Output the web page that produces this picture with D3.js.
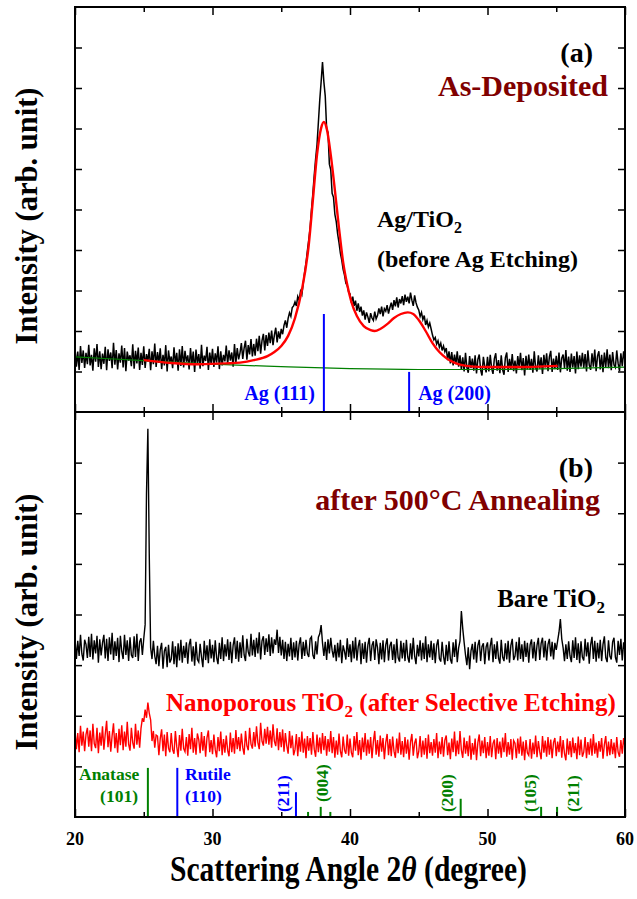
<!DOCTYPE html>
<html>
<head>
<meta charset="utf-8">
<script src="https://cdn.jsdelivr.net/npm/d3@7"></script>
<style>
  body { margin: 0; background: #fff; }
  svg { display: block; }
  text { font-family: "Liberation Serif", "Times New Roman", Times, serif; font-weight: bold; }
</style>
</head>
<body>
<svg id="chart" width="637" height="899"></svg>
<script>
// Scan grid: 20.0° to 60.0° in 0.1° steps
const angleStart = 20;
const angleStep = 0.1;

// (a) As-deposited Ag/TiO2, measured counts (arb.)
const agTiO2Counts = [
  158,112,149,104,163,121,152,109,146,118,
  166,115,141,102,157,124,168,111,150,106,
  144,119,161,103,155,126,147,108,171,117,
  153,105,145,122,164,110,158,101,149,127,
  140,113,167,107,151,120,159,104,146,116,
  162,109,143,125,156,103,150,118,169,111,
  148,121,157,106,141,115,165,100,152,123,
  137,108,160,119,146,102,155,114,163,110,
  151,124,140,105,158,117,149,99,154,120,
  143,107,166,113,139,126,161,104,147,118,
  156,111,145,122,162,106,150,115,141,125,
  164,118,152,127,147,112,168,121,158,130,
  146,170,131,158,176,129,165,142,180,137,
  168,139,181,150,188,144,176,193,152,190,
  163,196,170,201,165,190,208,172,199,181,
  205,192,214,226,208,231,245,236,258,262,
  272,262,285,276,298,290,318,345,368,398,
  425,455,500,540,585,625,660,715,770,815,
  864,815,780,700,690,612,598,540,530,488,
  470,440,418,392,375,352,338,318,312,296,
  292,270,285,262,275,250,268,247,260,238,
  251,228,246,235,220,244,232,226,248,230,
  238,256,242,260,236,255,249,264,243,258,
  270,252,276,261,283,258,279,268,286,264,
  290,272,285,268,295,276,262,288,270,259,
  252,236,246,228,238,215,226,210,220,205,
  190,178,184,168,176,160,170,152,163,149,
  158,128,150,120,148,115,142,118,150,112,
  140,104,135,100,146,110,97,138,108,132,
  102,140,95,130,142,104,90,136,112,98,
  136,100,141,108,94,132,145,102,128,96,
  140,104,92,134,147,99,131,106,143,101,
  127,95,138,110,146,103,133,90,139,105,
  142,104,131,97,150,109,100,140,107,135,
  94,141,110,145,101,136,151,99,132,106,
  139,104,147,98,133,142,108,153,102,137,
  99,144,110,138,95,149,106,140,112,146,
  109,143,100,152,116,104,145,112,154,101,
  138,150,105,141,98,147,111,155,108,142,
  103,148,116,110,152,120,101,145,113,150,
  125
];

// (a) peak fit
const fitAngles = [25, 27, 29, 31, 32, 33, 34, 34.5, 35, 35.5, 36, 36.5, 37, 37.3, 37.6, 37.9, 38.1, 38.3, 38.6, 38.9, 39.2, 39.5, 39.8, 40.1, 40.5, 41, 41.5, 41.8, 42.2, 42.7, 43.2, 43.7, 44.2, 44.6, 45, 45.5, 46, 46.5, 47, 47.5, 48, 49, 50, 52, 55.1];
const fitCounts = [128, 121, 118, 120, 122, 128, 138, 148, 163, 188, 232, 301, 412, 523, 635, 701, 716, 701, 635, 548, 454, 370, 314, 272, 237, 212, 202, 200, 205, 217, 232, 242, 246, 242, 227, 200, 170, 148, 133, 123, 117, 112, 111, 111, 114];

// (a) background
const baselineAngles = [20, 25, 30, 35, 40, 45, 50, 55, 60];
const baselineCounts = [136, 127, 118, 112, 107, 105, 105, 107, 111];

// (a) Ag reference reflections
const agRefNames = ["Ag (111)", "Ag (200)"];
const agRefAngles = [38.1, 44.3];
const agRefHeights = [242, 99];

// (b) Bare TiO2 after 500 °C annealing
const bareTiO2Counts = [
  352,312,348,318,360,322,309,350,341,314,
  356,316,362,311,349,323,358,305,351,319,
  344,360,313,352,308,355,321,364,310,347,
  318,354,306,358,327,312,360,320,349,308,
  355,320,314,357,316,362,308,346,353,320,
  352,380,640,767,520,335,312,348,318,302,
  338,298,330,344,293,328,336,296,340,305,
  312,347,302,337,296,343,309,350,305,338,
  314,345,303,340,352,307,337,299,346,311,
  306,342,316,296,348,310,339,304,351,313,
  340,306,349,315,302,344,312,355,308,341,
  317,351,310,346,304,339,355,312,348,307,
  345,314,359,320,308,352,326,317,362,319,
  350,316,354,323,365,311,348,357,320,353,
  326,361,318,355,323,351,340,370,324,356,
  319,350,312,346,308,342,317,354,310,345,
  315,348,309,341,355,312,346,318,350,323,
  316,352,356,320,312,347,321,355,362,379,
  344,318,346,310,351,323,354,329,315,340,
  308,344,315,350,304,339,327,311,353,316,
  341,306,348,313,355,309,337,350,302,343,
  312,346,305,340,354,308,339,347,310,351,
  335,302,344,311,349,306,340,353,309,338,
  346,310,341,304,352,315,307,348,313,344,
  308,350,316,305,343,311,354,318,302,340,
  317,349,309,344,312,357,306,341,315,348,
  310,343,304,339,351,313,307,346,317,301,
  340,308,347,312,303,345,316,351,306,334,
  348,407,372,345,320,300,335,292,328,342,
  311,346,305,339,350,308,337,343,302,336,
  345,309,338,354,306,341,312,347,314,303,
  350,316,308,343,311,348,305,339,352,310,
  318,346,309,355,312,341,307,348,316,344,
  305,340,351,313,346,308,339,354,310,343,
  354,315,348,309,341,352,317,346,311,344,
  330,348,365,391,352,334,308,341,312,347,
  318,306,349,314,355,310,343,304,347,316,
  309,352,317,345,303,340,356,312,348,307,
  344,313,350,308,341,357,315,306,349,318,
  311,346,354,316,305,348,320,352,309,345,
  329
];

// (b) Nanoporous TiO2 after selective etching
const nanoporousCounts = [
  172,134,166,128,180,141,169,130,163,176,
  139,171,130,184,145,136,176,126,167,141,
  179,133,164,190,138,170,129,161,185,136,
  166,127,174,142,181,132,169,139,188,144,
  131,176,147,135,184,143,171,137,175,195,
  188,212,196,226,205,192,150,170,137,162,
  160,122,155,173,130,163,120,168,136,128,
  166,133,125,170,139,118,162,131,174,135,
  129,158,121,164,134,176,127,156,123,165,
  153,126,168,131,160,119,157,171,128,152,
  124,163,133,118,158,130,169,122,154,127,
  161,132,120,167,128,156,125,172,134,158,
  130,165,137,123,170,141,132,176,144,135,
  168,139,179,147,134,186,150,141,174,145,
  178,143,171,137,183,150,140,175,132,168,
  138,173,129,166,141,125,170,136,161,122,
  133,164,120,158,129,169,127,155,116,160,
  131,156,123,168,134,119,163,128,157,125,
  166,132,160,121,154,129,170,126,158,117,
  151,123,165,130,118,159,132,125,163,121,
  155,127,118,160,131,168,122,152,113,157,
  128,166,121,153,125,158,116,149,170,123,
  152,119,161,129,156,114,147,164,122,154,
  120,159,130,117,155,126,167,123,150,118,
  158,125,153,113,148,164,121,146,155,116,
  129,160,118,151,123,156,115,163,126,148,
  121,154,127,166,116,149,124,158,119,152,
  161,122,147,114,155,128,169,120,151,124,
  170,132,117,157,125,150,120,161,113,146,
  123,155,112,147,163,120,151,126,158,116,
  148,121,160,118,145,153,114,156,125,149,
  117,157,128,166,119,148,123,154,113,151,
  146,116,155,125,159,121,149,112,152,127,
  122,154,115,147,124,161,118,150,129,114,
  160,127,151,119,158,123,153,116,147,156,
  120,149,128,160,117,152,125,112,155,123,
  150,118,157,126,146,114,159,122,153,119,
  128,158,116,148,123,155,121,164,125,147,
  117,150,129,156,115,143,160,120,149,122,
  154,124,147,116,158,128,119,152,125,156,
  138
];

// (b) TiO2 reference reflections
const tio2RefAngles = [25.3, 27.44, 36.07, 36.95, 37.87, 38.57, 48.05, 53.9, 55.06];
const tio2RefHeights = [97, 97, 49, 10, 20, 10, 36, 20, 20];
const tio2RefPhases = ["anatase", "rutile", "rutile", "anatase", "anatase", "anatase", "anatase", "anatase", "anatase"];
const tio2RefLabels = ["", "", "(211)", "", "(004)", "", "(200)", "(105)", "(211)"];

// Axis ticks
const xTickValues = [20, 30, 40, 50, 60];
const xMinorTickValues = [25, 35, 45, 55];
const yTicksA = [100, 200, 300, 400, 500, 600, 700, 800, 900];
const yTicksB = [100, 200, 300, 400, 500, 600, 700];

// ---------- drawing ----------
const svg = d3.select("#chart");
const left = 75, right = 625, topA = 7, mid = 412, bottomB = 817;
const BLACK = "#000", RED = "#ff0000", DARKRED = "#800000", BLUE = "#0000ff", GREEN = "#008000";

const x = d3.scaleLinear().domain([20, 60]).range([left, right]);
const yA = d3.scaleLinear().domain([0, 1000]).range([mid, topA]);
const yB = d3.scaleLinear().domain([0, 800]).range([bottomB, mid]);
const phaseColor = p => p === "rutile" ? BLUE : GREEN;

const defs = svg.append("defs");
defs.append("clipPath").attr("id", "clipA").append("rect")
  .attr("x", left).attr("y", topA).attr("width", right - left).attr("height", mid - topA);
defs.append("clipPath").attr("id", "clipB").append("rect")
  .attr("x", left).attr("y", mid).attr("width", right - left).attr("height", bottomB - mid);

const angleAt = i => angleStart + i * angleStep;
const traceA = d3.line().x((d, i) => x(angleAt(i))).y(d => yA(d));
const traceB = d3.line().x((d, i) => x(angleAt(i))).y(d => yB(d));

// Panel (a)
const gA = svg.append("g").attr("clip-path", "url(#clipA)");
gA.append("path").datum(agTiO2Counts).attr("d", traceA)
  .attr("fill", "none").attr("stroke", BLACK).attr("stroke-width", 1.5).attr("stroke-linejoin", "miter");
gA.append("path").datum(baselineAngles.map((a, i) => [a, baselineCounts[i]]))
  .attr("d", d3.line().curve(d3.curveMonotoneX).x(d => x(d[0])).y(d => yA(d[1])))
  .attr("fill", "none").attr("stroke", GREEN).attr("stroke-width", 1.2);
gA.append("path").datum(fitAngles.map((a, i) => [a, fitCounts[i]]))
  .attr("d", d3.line().curve(d3.curveMonotoneX).x(d => x(d[0])).y(d => yA(d[1])))
  .attr("fill", "none").attr("stroke", RED).attr("stroke-width", 2.4);
gA.selectAll("line.agref").data(agRefAngles).join("line").attr("class", "agref")
  .attr("x1", d => x(d)).attr("x2", d => x(d))
  .attr("y1", yA(0)).attr("y2", (d, i) => yA(agRefHeights[i]))
  .attr("stroke", BLUE).attr("stroke-width", 2);

// Panel (b)
const gB = svg.append("g").attr("clip-path", "url(#clipB)");
gB.append("path").datum(bareTiO2Counts).attr("d", traceB)
  .attr("fill", "none").attr("stroke", BLACK).attr("stroke-width", 1.4).attr("stroke-linejoin", "miter");
gB.append("path").datum(nanoporousCounts).attr("d", traceB)
  .attr("fill", "none").attr("stroke", RED).attr("stroke-width", 1.4).attr("stroke-linejoin", "miter");
gB.selectAll("line.tref").data(tio2RefAngles).join("line").attr("class", "tref")
  .attr("x1", d => x(d)).attr("x2", d => x(d))
  .attr("y1", yB(0)).attr("y2", (d, i) => yB(tio2RefHeights[i]))
  .attr("stroke", (d, i) => phaseColor(tio2RefPhases[i])).attr("stroke-width", 2);

// Axes (ticks point inward)
function styleAxis(g) {
  g.select(".domain").remove();
  g.selectAll(".tick line").attr("stroke", BLACK).attr("stroke-width", 1.5);
  g.selectAll("text").remove();
}
const major = 8, minor = 5, ytick = 7;
[[topA, d3.axisTop], [mid, d3.axisBottom], [mid, d3.axisTop], [bottomB, d3.axisBottom]].forEach(([yy, ax]) => {
  svg.append("g").attr("transform", `translate(0,${yy})`)
    .call(ax(x).tickValues(xTickValues).tickSize(-major)).call(styleAxis);
  svg.append("g").attr("transform", `translate(0,${yy})`)
    .call(ax(x).tickValues(xMinorTickValues).tickSize(-minor)).call(styleAxis);
});
svg.append("g").attr("transform", `translate(${left},0)`)
  .call(d3.axisLeft(yA).tickValues(yTicksA).tickSize(-ytick)).call(styleAxis);
svg.append("g").attr("transform", `translate(${right},0)`)
  .call(d3.axisRight(yA).tickValues(yTicksA).tickSize(-ytick)).call(styleAxis);
svg.append("g").attr("transform", `translate(${left},0)`)
  .call(d3.axisLeft(yB).tickValues(yTicksB).tickSize(-ytick)).call(styleAxis);
svg.append("g").attr("transform", `translate(${right},0)`)
  .call(d3.axisRight(yB).tickValues(yTicksB).tickSize(-ytick)).call(styleAxis);

// Frames
svg.append("rect").attr("x", left).attr("y", topA).attr("width", right - left).attr("height", bottomB - topA)
  .attr("fill", "none").attr("stroke", BLACK).attr("stroke-width", 2);
svg.append("line").attr("x1", left).attr("x2", right).attr("y1", mid).attr("y2", mid)
  .attr("stroke", BLACK).attr("stroke-width", 2);

// X tick labels
svg.selectAll("text.xtl").data(xTickValues).join("text").attr("class", "xtl")
  .attr("x", d => x(d)).attr("y", 845).attr("text-anchor", "middle")
  .attr("font-size", 18).text(d => d);

// X axis title, narrowed horizontally to the condensed look of the figure
const xt = svg.append("text").attr("font-size", 35);
xt.append("tspan").text("Scattering Angle 2");
xt.append("tspan").attr("font-style", "italic").text("θ");
xt.append("tspan").text(" (degree)");
const xtWidth = xt.node().getComputedTextLength();
xt.attr("transform", `translate(170,881) scale(${357 / xtWidth},1)`);

[216, 622].forEach(cy => {
  svg.append("text").attr("transform", `translate(37,${cy}) rotate(-90)`)
    .attr("text-anchor", "middle").attr("font-size", 31)
    .attr("textLength", 257).attr("lengthAdjust", "spacingAndGlyphs")
    .text("Intensity (arb. unit)");
});

// Panel (a) annotations
svg.append("text").attr("x", 593).attr("y", 62).attr("text-anchor", "end").attr("font-size", 28).text("(a)");
svg.append("text").attr("x", 608).attr("y", 96).attr("text-anchor", "end").attr("font-size", 30)
  .attr("fill", DARKRED).text("As-Deposited");
const t1 = svg.append("text").attr("x", 377).attr("y", 227).attr("font-size", 24);
t1.append("tspan").text("Ag/TiO");
t1.append("tspan").attr("font-size", 16).attr("dy", 6).text("2");
svg.append("text").attr("x", 377).attr("y", 267).attr("font-size", 24).text("(before Ag Etching)");
svg.append("text").attr("x", x(agRefAngles[0]) - 9).attr("y", 400).attr("text-anchor", "end")
  .attr("font-size", 20).attr("fill", BLUE).text(agRefNames[0]);
svg.append("text").attr("x", x(agRefAngles[1]) + 9).attr("y", 400)
  .attr("font-size", 20).attr("fill", BLUE).text(agRefNames[1]);

// Panel (b) annotations
svg.append("text").attr("x", 593).attr("y", 477).attr("text-anchor", "end").attr("font-size", 28).text("(b)");
svg.append("text").attr("x", 600).attr("y", 510).attr("text-anchor", "end").attr("font-size", 30)
  .attr("fill", DARKRED).text("after 500°C Annealing");
const t2 = svg.append("text").attr("x", 605).attr("y", 607).attr("text-anchor", "end").attr("font-size", 25);
t2.append("tspan").text("Bare TiO");
t2.append("tspan").attr("font-size", 17).attr("dy", 6).text("2");
const t3 = svg.append("text").attr("x", 166).attr("y", 711).attr("font-size", 25).attr("fill", RED);
t3.append("tspan").text("Nanoporous TiO");
t3.append("tspan").attr("font-size", 17).attr("dy", 6).text("2");
t3.append("tspan").attr("dy", -6).text(" (after Selective Etching)");

svg.append("text").attr("x", 79).attr("y", 780).attr("font-size", 17.5).attr("fill", GREEN).text("Anatase");
svg.append("text").attr("x", 138).attr("y", 802).attr("text-anchor", "end").attr("font-size", 17.5).attr("fill", GREEN).text("(101)");
svg.append("text").attr("x", 185).attr("y", 780).attr("font-size", 17.5).attr("fill", BLUE).text("Rutile");
svg.append("text").attr("x", 185).attr("y", 802).attr("font-size", 17.5).attr("fill", BLUE).text("(110)");

// Rotated hkl labels beside their reflections
const hklOffsets = { "36.07": [-7, 812], "37.87": [7, 802], "48.05": [-8, 812], "53.9": [-5, 812], "55.06": [22, 812] };
tio2RefAngles.forEach((a, i) => {
  if (!tio2RefLabels[i]) return;
  const [dx, by] = hklOffsets[String(a)];
  svg.append("text").attr("transform", `translate(${x(a) + dx},${by}) rotate(-90)`)
    .attr("font-size", 17.5).attr("fill", phaseColor(tio2RefPhases[i])).text(tio2RefLabels[i]);
});
</script>
</body>
</html>
